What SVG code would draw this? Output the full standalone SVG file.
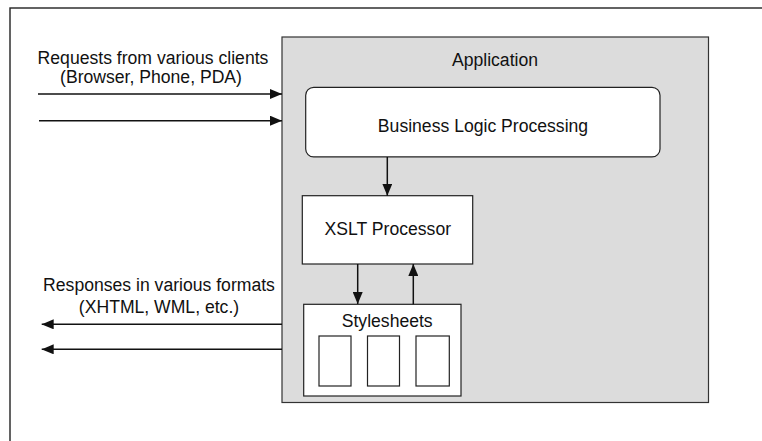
<svg xmlns="http://www.w3.org/2000/svg" width="762" height="441" viewBox="0 0 762 441">
<style>
text{font-family:"Liberation Sans",Arial,sans-serif;font-size:17.6px;fill:#111;text-anchor:middle}
.box{fill:#fff;stroke:#222;stroke-width:1.2}
.ln{stroke:#111;stroke-width:1.5;fill:none}
</style>
<defs>
<marker id="ah" viewBox="0 0 12 10" refX="12" refY="5" markerWidth="12" markerHeight="10" markerUnits="userSpaceOnUse" orient="auto">
<path d="M0,0 L12,5 L0,10 Z" fill="#111"/>
</marker>
</defs>
<rect width="762" height="441" fill="#fff"/>
<rect x="10" y="8" width="800" height="500" fill="none" stroke="#222" stroke-width="1.4"/>
<g id="application">
<rect x="282" y="37" width="426.5" height="365.5" fill="#dcdcdc" stroke="#333" stroke-width="1.2"/>
<text x="495" y="65.7">Application</text>
</g>
<g id="business-logic">
<rect class="box" x="305.7" y="87.3" width="354.3" height="69.6" rx="8" ry="8"/>
<text x="483" y="131.7">Business Logic Processing</text>
</g>
<g id="xslt-processor">
<rect class="box" x="302.3" y="195.7" width="170.4" height="68.3"/>
<text x="387.8" y="235">XSLT Processor</text>
</g>
<g id="stylesheets">
<rect class="box" x="303.7" y="304.3" width="157.3" height="91.7"/>
<text x="387.2" y="327.3">Stylesheets</text>
<rect class="box" x="319" y="336" width="32" height="50"/>
<rect class="box" x="367.5" y="336" width="32" height="50"/>
<rect class="box" x="416" y="336" width="33.3" height="50"/>
</g>
<g id="labels">
<text x="153" y="64">Requests from various clients</text>
<text x="151" y="83.3">(Browser, Phone, PDA)</text>
<text x="159" y="291">Responses in various formats</text>
<text x="159" y="312.7">(XHTML, WML, etc.)</text>
</g>
<g id="connectors">
<line class="ln" x1="38" y1="94" x2="282" y2="94" marker-end="url(#ah)"/>
<line class="ln" x1="39" y1="120.7" x2="282" y2="120.7" marker-end="url(#ah)"/>
<line class="ln" x1="387.3" y1="157" x2="387.3" y2="195.7" marker-end="url(#ah)"/>
<line class="ln" x1="357.7" y1="264" x2="357.7" y2="304" marker-end="url(#ah)"/>
<line class="ln" x1="413.3" y1="304.3" x2="413.3" y2="264" marker-end="url(#ah)"/>
<line class="ln" x1="282" y1="324.3" x2="41.7" y2="324.3" marker-end="url(#ah)"/>
<line class="ln" x1="282" y1="349.3" x2="41.7" y2="349.3" marker-end="url(#ah)"/>
</g>
</svg>
